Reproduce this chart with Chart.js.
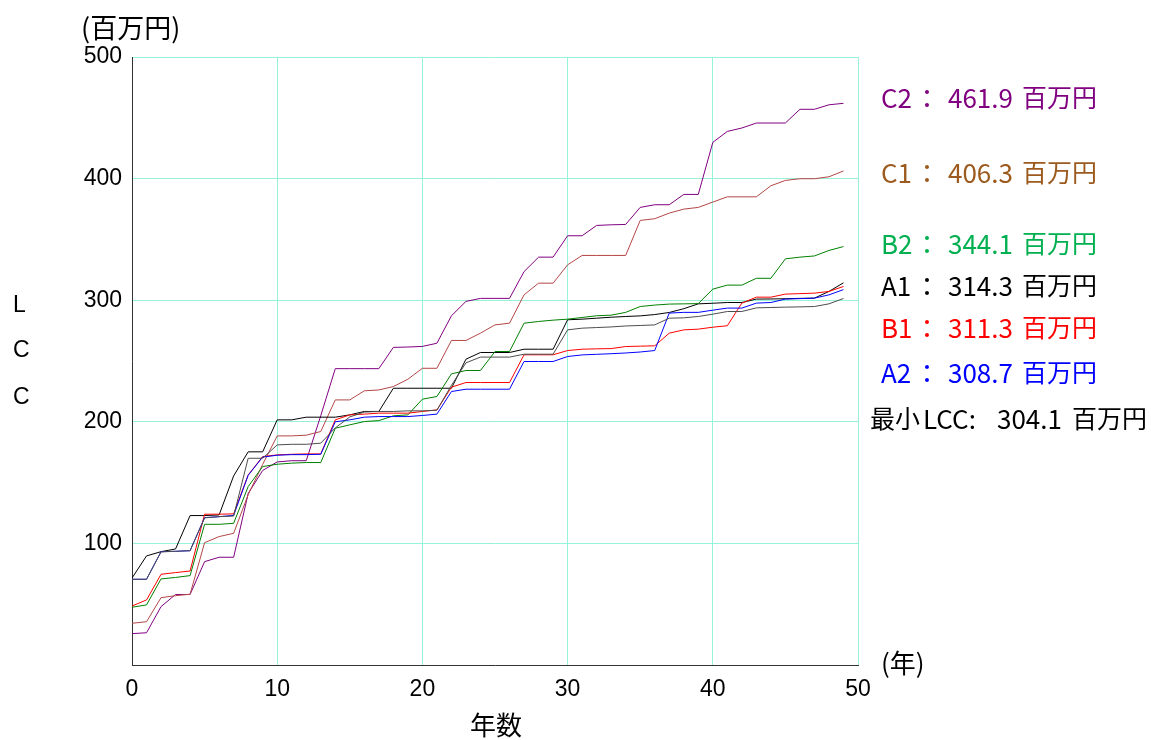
<!DOCTYPE html>
<html>
<head>
<meta charset="utf-8">
<script src="https://cdn.jsdelivr.net/npm/chart.js@4/dist/chart.umd.min.js"></script>
<style>
  body { margin: 0; background: #fff; }
  #wrap { position: relative; width: 1151px; height: 740px; overflow: hidden; }
  #c { position: absolute; left: 0; top: 0; }
  .t { position: absolute; font-family: "Noto Sans CJK JP", sans-serif; white-space: nowrap; line-height: 1; }
  .lat { font-family: "Liberation Sans", Arial, sans-serif; }
</style>
</head>
<body>
<div id="wrap">
  <canvas id="c" width="1151" height="740"></canvas>
</div>
<script>
// 年数 (0〜49年)
const years = [0, 1, 2, 3, 4, 5, 6, 7, 8, 9,
  10, 11, 12, 13, 14, 15, 16, 17, 18, 19,
  20, 21, 22, 23, 24, 25, 26, 27, 28, 29,
  30, 31, 32, 33, 34, 35, 36, 37, 38, 39,
  40, 41, 42, 43, 44, 45, 46, 47, 48, 49];

const xTicks = [0, 10, 20, 30, 40, 50];
const yTicks = [100, 200, 300, 400, 500];

// 累積LCC (百万円) - 図から読み取り
const c2 = [25.8, 26.5, 48, 58, 58, 85, 88.6, 88.6, 141, 160,
  167, 168, 168, 205, 243.7, 243.7, 243.7, 243.7, 261.2, 261.5,
  262, 264.6, 287.2, 299, 301.5, 301.5, 301.5, 323.5, 335.4, 335.4,
  353, 353, 361.5, 362, 362.3, 376.3, 378.5, 378.5, 387, 387,
  429.8, 438.8, 441.6, 445.7, 445.7, 445.7, 457, 457, 460.7, 461.9];

const c1 = [34.3, 35.6, 55.4, 57, 58.2, 100.6, 105.6, 108.3, 140, 165,
  188.4, 188.4, 189, 192, 218, 218, 225.5, 226.2, 229, 235,
  244, 244, 266.9, 266.9, 272.9, 279.7, 281.1, 304.4, 314, 314,
  329.1, 336.8, 336.8, 336.8, 336.8, 365.6, 367, 371.6, 374.9, 376.3,
  380.7, 385, 385, 385, 394.1, 398.5, 399.9, 399.9, 401.5, 406.3];

const b2 = [47.5, 49.4, 70.8, 72, 73.5, 115.7, 115.7, 116.5, 146.7, 163.2,
  165.1, 166, 166.5, 166.5, 194.7, 197.5, 200.2, 201, 204.9, 205.7,
  218.6, 220.8, 239.4, 242.2, 242.2, 257.8, 257.8, 281.1, 282.5, 283.6,
  284.4, 285.8, 287.2, 287.7, 290, 294.8, 296, 296.8, 297, 297.2,
  309.1, 312.4, 312.4, 318, 318, 334, 335.4, 336.4, 340.9, 344.1];

const a1 = [71.5, 89.7, 93.2, 95.4, 122.9, 122.9, 123.4, 155.5, 175.3, 175.3,
  201.6, 201.6, 203.8, 203.8, 203.8, 205.7, 208.5, 208.5, 227.6, 227.6,
  227.6, 227.6, 227.6, 251.5, 257, 257, 257, 259.7, 259.7, 259.7,
  283.9, 284.4, 285.2, 286, 286.6, 287.1, 288.2, 289.9, 293, 297,
  297.5, 298.1, 298.1, 300.9, 301, 301.2, 301.5, 301.7, 307.2, 314.3];

const b1 = [48.5, 53.5, 74.6, 76, 77.3, 124, 124, 124.3, 156.3, 171.4,
  172.8, 173.3, 173.6, 173.6, 201.6, 205.7, 206.3, 207.1, 207.1, 207.1,
  208.5, 209.8, 228.5, 232.3, 232.3, 232.3, 232.3, 255.1, 255.1, 255.1,
  258.6, 259.7, 260, 260.2, 261.9, 262.2, 262.5, 272.9, 275.6, 276.2,
  277.8, 279, 297.6, 302.5, 302.5, 305, 305.4, 305.8, 307.2, 311.3];

const a2 = [70.5, 70.5, 93.2, 93.5, 94, 121.2, 122, 123, 156, 171,
  172.5, 173, 173, 173.3, 200, 201.6, 203.8, 204.3, 204.3, 204.3,
  205.2, 206.3, 224.9, 226.8, 226.8, 226.8, 226.8, 249.6, 249.6, 249.6,
  253.7, 255, 255.5, 256, 256.6, 257.4, 258.6, 289.4, 290, 290,
  291.8, 293.5, 293.5, 297.6, 298.1, 300.9, 301.3, 301.7, 304.4, 308.7];

const minLcc = [70.5, 70.5, 93, 93.5, 94, 121, 122, 122.5, 170, 170,
  181, 181.5, 181.5, 182.4, 195, 204, 208, 208.5, 208.5, 209,
  209, 209.5, 230, 248.5, 253.2, 253.2, 253.2, 255.6, 255.6, 255.6,
  275.6, 277, 277.5, 278, 278.8, 279.2, 279.7, 285.2, 285.5, 286.6,
  288.5, 290.7, 290.7, 293.7, 294, 294.3, 294.5, 294.8, 297, 301.4];

// 右側の凡例
const legendItems = [
  { name: "C2", value: "461.9", color: "#800080", y: 97 },
  { name: "C1", value: "406.3", color: "#9c5a1e", y: 172 },
  { name: "B2", value: "344.1", color: "#00b050", y: 243 },
  { name: "A1", value: "314.3", color: "#000000", y: 285 },
  { name: "B1", value: "311.3", color: "#ff0000", y: 327 },
  { name: "A2", value: "308.7", color: "#0000ff", y: 372 }
];

const series = [
  { label: "最小LCC", data: minLcc, color: "#4d4d4d" },
  { label: "A2", data: a2, color: "#0000ff" },
  { label: "B1", data: b1, color: "#ff0000" },
  { label: "B2", data: b2, color: "#008000" },
  { label: "A1", data: a1, color: "#000000" },
  { label: "C1", data: c1, color: "#b44646" },
  { label: "C2", data: c2, color: "#800080" }
];

const GRID = "#96f2d8";
const tickFont = { family: "'Liberation Sans', Arial, sans-serif", size: 23 };

new Chart(document.getElementById("c"), {
  type: "line",
  data: {
    labels: years,
    datasets: series.map(s => ({
      label: s.label,
      data: s.data,
      borderColor: s.color,
      borderWidth: 1,
      pointRadius: 0,
      tension: 0,
      fill: false
    }))
  },
  options: {
    responsive: false,
    devicePixelRatio: 1,
    animation: false,
    layout: { padding: { left: 0, top: 57, right: 293, bottom: 0 } },
    plugins: { legend: { display: false }, tooltip: { enabled: false } },
    scales: {
      x: {
        type: "linear",
        min: 0,
        max: 50,
        afterFit: s => { s.height = 75; },
        afterBuildTicks: s => { s.ticks = xTicks.map(v => ({ value: v })); },
        ticks: { color: "#000", font: tickFont, padding: 11, maxRotation: 0 },
        grid: { color: GRID, lineWidth: 1, drawTicks: false },
        border: { color: "#333", width: 1 }
      },
      y: {
        min: 0,
        max: 500,
        afterFit: s => { s.width = 132; },
        afterBuildTicks: s => { s.ticks = [0].concat(yTicks).map(v => ({ value: v })); },
        ticks: {
          color: "#000",
          font: tickFont,
          padding: 10,
          callback: v => (v === 0 ? "" : v)
        },
        grid: { color: GRID, lineWidth: 1, drawTicks: false },
        border: { color: "#333", width: 1 }
      }
    }
  }
});

// テキスト類
const wrap = document.getElementById("wrap");
function addText(txt, left, top, size, color, extraClass) {
  const el = document.createElement("div");
  el.className = "t" + (extraClass ? " " + extraClass : "");
  el.textContent = txt;
  el.style.left = left + "px";
  el.style.top = top + "px";
  el.style.fontSize = size + "px";
  el.style.color = color || "#000";
  wrap.appendChild(el);
  return el;
}

addText("(百万円)", 81, 13, 27);
addText("(年)", 881, 649, 26);
addText("年数", 470, 711, 26);
addText("L", 13, 293, 23, "#000", "lat");
addText("C", 13, 338, 23, "#000", "lat");
addText("C", 13, 385, 23, "#000", "lat");

legendItems.forEach(it => {
  const top = it.y - 13;
  addText(it.name, 881, top, 26, it.color);
  addText("：", 914, top, 26, it.color);
  addText(it.value, 948, top, 26, it.color);
  addText("百万円", 1022, top, 25, it.color);
});

addText("最小", 870, 405, 25);
addText("LCC:", 923, 405, 26);
addText("304.1", 997, 405, 26);
addText("百万円", 1072, 405, 25);
</script>
</body>
</html>
